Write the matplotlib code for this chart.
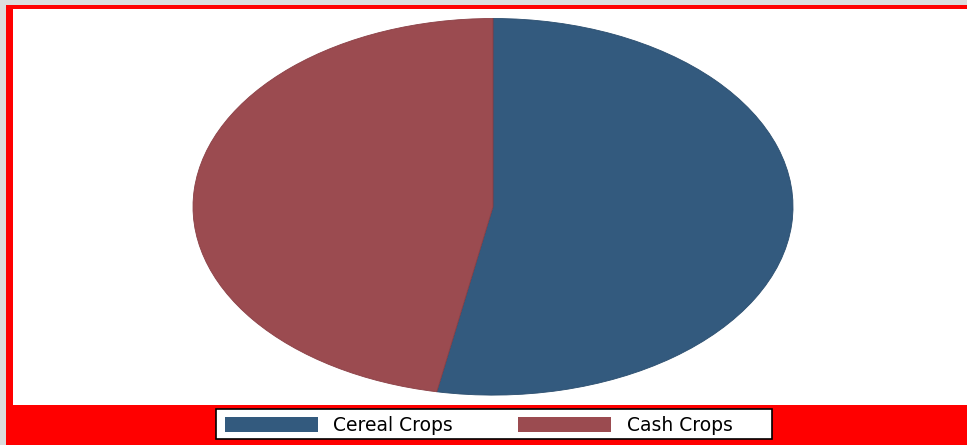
import matplotlib
matplotlib.use("Agg")
import matplotlib.pyplot as plt
from matplotlib.patches import Rectangle

categories = ["Cereal Crops", "Cash Crops"]
values = [53.0, 47.0]
colors = ["#335a7e", "#9b4b50"]
edge_colors = ["#2a4d6e", "#8a3f45"]

W, H = 967, 445
fig = plt.figure(figsize=(W / 100, H / 100), dpi=100)
fig.patch.set_facecolor("#ff0000")

def fx(px):
    return px / W

def fy(py):
    return 1 - py / H

# light gray outer strips (left and top)
fig.patches.append(Rectangle((0, 0), fx(6), 1, transform=fig.transFigure,
                             facecolor="#dcdcdc", edgecolor="none", zorder=0))
fig.patches.append(Rectangle((0, fy(5)), 1, 5 / H, transform=fig.transFigure,
                             facecolor="#dcdcdc", edgecolor="none", zorder=0))
# white plot region
fig.patches.append(Rectangle((fx(13), fy(405)), fx(W - 13), (405 - 9) / H,
                             transform=fig.transFigure, facecolor="white",
                             edgecolor="none", zorder=0))

# pie axes: stretched ellipse
cx, cy = 493, 206.8
rx, ry = 300, 188.3
ax = fig.add_axes([fx(cx - rx), fy(cy + ry), 2 * rx / W, 2 * ry / H])
ax.set_zorder(5)
ax.patch.set_visible(False)
wedges, _ = ax.pie(values, colors=colors, startangle=90, counterclock=False,
                   radius=1, center=(0, 0),
                   wedgeprops=dict(linewidth=0.6))
for w, ec in zip(wedges, edge_colors):
    w.set_edgecolor(ec)
ax.set_aspect("auto")
ax.set_xlim(-1, 1)
ax.set_ylim(-1, 1)
ax.axis("off")

# legend (manual, matching reference layout)
fig.patches.append(Rectangle((fx(216), fy(439)), fx(772 - 216), (439 - 409) / H,
                             transform=fig.transFigure, facecolor="white",
                             edgecolor="black", linewidth=1.2, zorder=2))
key_x = [225, 518]
text_x = [333, 627]
for i, lab in enumerate(categories):
    fig.patches.append(Rectangle((fx(key_x[i]), fy(432)), fx(93), 15 / H,
                                 transform=fig.transFigure, facecolor=colors[i],
                                 edgecolor="none", zorder=3))
    fig.text(fx(text_x[i]), fy(431), lab, fontsize=13.5, family="DejaVu Sans",
             ha="left", va="baseline", color="black", zorder=4)

fig.savefig("out.png", dpi=100, facecolor=fig.get_facecolor())
